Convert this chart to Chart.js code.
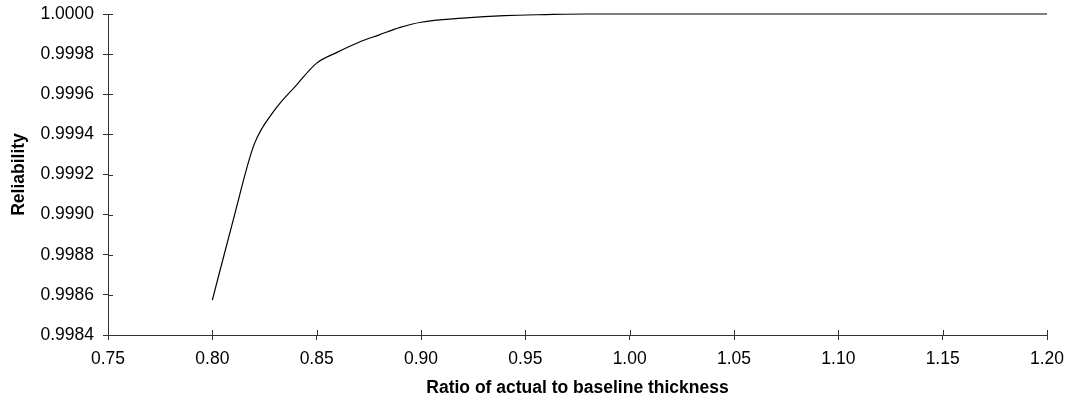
<!DOCTYPE html>
<html>
<head>
<meta charset="utf-8">
<script src="https://cdn.jsdelivr.net/npm/chart.js@4"></script>
<style>
  html, body { margin: 0; padding: 0; background: #fff; }
  #wrap { width: 1075px; height: 400px; }
</style>
</head>
<body>
<div id="wrap"><canvas id="chart-area"></canvas></div>
<script>
// ratio of actual to baseline thickness
var ratios = [0.80, 0.81, 0.82, 0.83, 0.84, 0.85, 0.86, 0.87, 0.88, 0.89, 0.90,
              0.92, 0.94, 0.96, 0.98, 1.00, 1.05, 1.10, 1.15, 1.20];
var reliability = [0.998574, 0.998973, 0.999349, 0.999523, 0.999642, 0.999755,
                   0.999810, 0.999858, 0.999896, 0.999933, 0.999959,
                   0.999979, 0.999992, 0.999997, 1.0, 1.0, 1.0, 1.0, 1.0, 1.0];

var xTicks = [0.75, 0.80, 0.85, 0.90, 0.95, 1.00, 1.05, 1.10, 1.15, 1.20];
var yTicks = [0.9984, 0.9986, 0.9988, 0.9990, 0.9992, 0.9994, 0.9996, 0.9998, 1.0000];

var xTitle = 'Ratio of actual to baseline thickness';
var yTitle = 'Reliability';

var points = [];
for (var i = 0; i < ratios.length; i++) {
  points.push({x: ratios[i], y: reliability[i]});
}

var axisColor = '#333';
var fontName = '"Liberation Sans", Arial, sans-serif';

// draw the inner half of the tick marks so they cross the axis
var crossTicks = {
  id: 'crossTicks',
  afterDraw: function(chart) {
    var ctx = chart.ctx;
    var xs = chart.scales.x, ys = chart.scales.y;
    ctx.save();
    ctx.strokeStyle = axisColor;
    ctx.lineWidth = 1;
    ctx.beginPath();
    xs.ticks.forEach(function(t) {
      var px = Math.round(xs.getPixelForValue(t.value)) + 0.5;
      ctx.moveTo(px, xs.top);
      ctx.lineTo(px, xs.top - 5);
    });
    ys.ticks.forEach(function(t) {
      var py = Math.round(ys.getPixelForValue(t.value)) + 0.5;
      ctx.moveTo(ys.right, py);
      ctx.lineTo(ys.right + 5, py);
    });
    ctx.stroke();
    ctx.restore();
  }
};

var config = {
  type: 'line',
  data: {
    datasets: [{
      data: points,
      borderColor: '#000',
      borderWidth: 1.2,
      pointRadius: 0,
      fill: false,
      cubicInterpolationMode: 'monotone',
      clip: 3
    }]
  },
  options: {
    responsive: true,
    maintainAspectRatio: false,
    animation: false,
    layout: { padding: { top: 14, right: 28, bottom: 0, left: 0 } },
    plugins: { legend: { display: false }, tooltip: { enabled: false } },
    scales: {
      x: {
        type: 'linear',
        min: 0.75,
        max: 1.20,
        afterBuildTicks: function(scale) {
          scale.ticks = xTicks.map(function(v){ return {value: v}; });
        },
        afterFit: function(scale) { scale.height = 65; },
        border: { display: true, color: axisColor, width: 1 },
        grid: { drawOnChartArea: false, drawTicks: true, tickLength: 5, color: axisColor },
        ticks: {
          color: '#000',
          padding: 9,
          maxRotation: 0,
          font: { family: fontName, size: 17.5 },
          callback: function(v) { return Number(v).toFixed(2); }
        },
        title: {
          display: true,
          text: xTitle,
          color: '#000',
          font: { family: fontName, size: 17.5, weight: 'bold' },
          padding: { top: 0, bottom: 1 }
        }
      },
      y: {
        min: 0.9984,
        max: 1.0,
        afterBuildTicks: function(scale) {
          scale.ticks = yTicks.map(function(v){ return {value: v}; });
        },
        afterFit: function(scale) {
          scale.width = 108;
          scale.paddingTop = 0;
          scale.paddingBottom = 0;
        },
        border: { display: true, color: axisColor, width: 1 },
        grid: { drawOnChartArea: false, drawTicks: true, tickLength: 5, color: axisColor },
        ticks: {
          color: '#000',
          padding: 9,
          font: { family: fontName, size: 17.5 },
          callback: function(v) { return Number(v).toFixed(4); }
        },
        title: {
          display: true,
          text: yTitle,
          color: '#000',
          font: { family: fontName, size: 17.5, weight: 'bold' },
          padding: { top: 9, bottom: 0 }
        }
      }
    }
  },
  plugins: [crossTicks]
};

var ctx = document.getElementById('chart-area').getContext('2d');
window.myLine = new Chart(ctx, config);
</script>
</body>
</html>
